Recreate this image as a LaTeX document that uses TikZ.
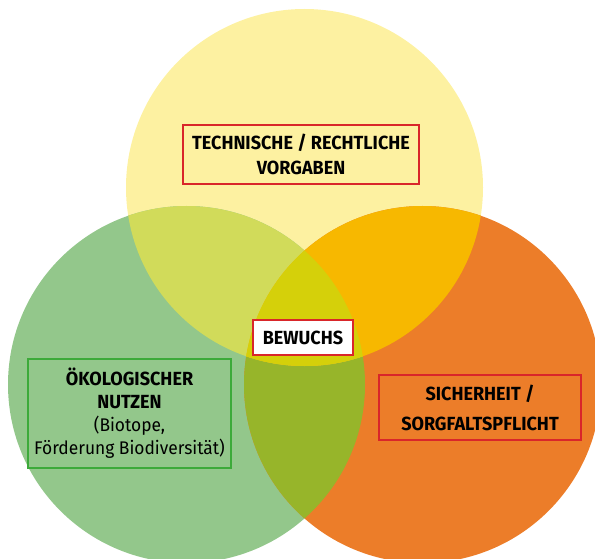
\documentclass[tikz,border=0pt]{standalone}
\usepackage{fontspec}
\setmainfont{Fira Sans}[FakeStretch=0.95]
\usepackage{tikz}
\usetikzlibrary{positioning}

\definecolor{gelb}{RGB}{253,241,161}
\definecolor{gruen}{RGB}{147,199,139}
\definecolor{orangerot}{RGB}{236,125,41}
\definecolor{gelbgruen}{RGB}{209,219,90}
\definecolor{gelborange}{RGB}{247,184,0}
\definecolor{gruenorange}{RGB}{151,181,42}
\definecolor{mitte}{RGB}{213,208,10}
\definecolor{rahmenrot}{RGB}{217,38,42}
\definecolor{rahmengruen}{RGB}{61,170,58}

\begin{document}
\begin{tikzpicture}[
x=1pt, y=-1pt,
kreis/.style  = {radius=178.5pt},
kasten/.style = {draw=rahmenrot, line width=1.3pt, inner sep=0pt, align=center,
                 font=\bfseries\fontsize{19}{25}\selectfont}
                        ]
		    \useasboundingbox (0,0) rectangle (595,559);
		    \clip (0,0) rectangle (595,559);
		    % Kreismittelpunkte
		    \coordinate (mt) at (304.5,187.5);
		    \coordinate (ml) at (186.5,384.5);
		    \coordinate (mr) at (422.5,384.5);

		    \fill[gelb]      (mt) circle[kreis];
		    \fill[gruen]     (ml) circle[kreis];
		    \fill[orangerot] (mr) circle[kreis];
		    \begin{scope}
		      \clip (ml) circle[kreis];
		      \fill[gruenorange] (mr) circle[kreis];
		    \end{scope}
		    \begin{scope}
		      \clip (mt) circle[kreis];
		      \fill[gelbgruen]  (ml) circle[kreis];
		      \fill[gelborange] (mr) circle[kreis];
		      \clip (ml) circle[kreis];
		      \fill[mitte] (mr) circle[kreis];
		    \end{scope}

		    \node[kasten, minimum width=236pt, minimum height=59pt] (vorgaben) at (301,154.5)
		        {TECHNISCHE / RECHTLICHE\\VORGABEN};
		    \node[kasten, fill=white, minimum width=100pt, minimum height=35pt] (bewuchs) at (303,337.5)
		        {BEWUCHS};
		    \node[kasten, draw=rahmengruen, minimum width=203pt, minimum height=109pt,
		          font=\fontsize{18.3}{23}\selectfont] (nutzen) at (129.5,413.5)
		        {\textbf{\fontsize{19}{23}\selectfont ÖKOLOGISCHER}\\\textbf{\fontsize{19}{23}\selectfont NUTZEN}\\(Biotope,\\Förderung Biodiversität)};
		    \node[kasten, minimum width=202pt, minimum height=65pt,
		          font=\bfseries\fontsize{19}{30}\selectfont] (sicherheit) at (480,407.5)
		        {SICHERHEIT /\\SORGFALTSPFLICHT};
	    \end{tikzpicture}
\end{document}
